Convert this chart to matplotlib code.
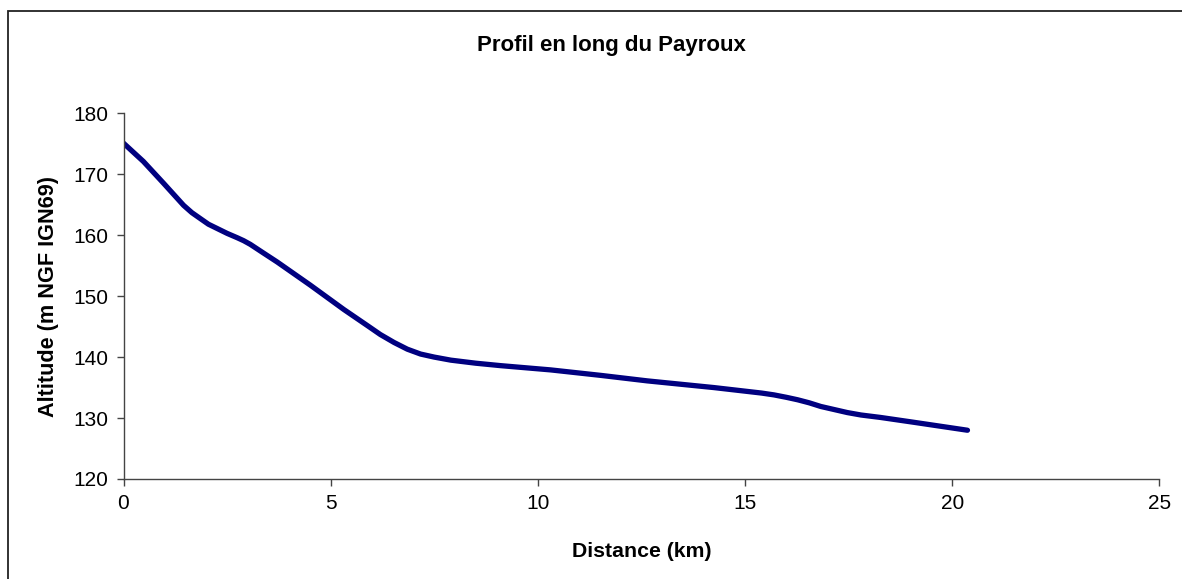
import matplotlib
matplotlib.use("Agg")
import matplotlib.pyplot as plt
from matplotlib.patches import Rectangle

plt.rcParams['font.family'] = ['Liberation Sans', 'DejaVu Sans']

# profil en long (distance km, altitude m)
distance = [0, 0.48, 0.97, 1.45, 1.65, 1.86, 2.05, 2.26, 2.5, 2.74, 2.9, 3.06, 3.35,
            3.71, 4.51, 5.32, 5.88, 6.2, 6.53, 6.85, 7.17, 7.5, 7.9, 8.5, 9.1,
            10.31, 11.52, 12.64, 14.25, 15.4, 15.7, 16.0, 16.27, 16.55, 16.83,
            17.15, 17.47, 17.8, 18.27, 19.08, 20.37]
altitude = [175.1, 172.1, 168.5, 164.9, 163.7, 162.7, 161.8, 161.1, 160.3, 159.6, 159.1, 158.5, 157.2,
            155.6, 151.8, 147.8, 145.2, 143.7, 142.4, 141.3, 140.5, 140.0, 139.5, 139.0, 138.6,
            137.9, 137.0, 136.1, 135.0, 134.1, 133.8, 133.4, 133.0, 132.5, 131.9,
            131.4, 130.9, 130.5, 130.1, 129.3, 128.0]
xticks = [0, 5, 10, 15, 20, 25]
yticks = [120, 130, 140, 150, 160, 170, 180]

W, H = 1182, 579
fig = plt.figure(figsize=(W / 100, H / 100), dpi=100)

# cadre du graphique
fig.patches.append(Rectangle((8 / W, -0.1), 1.2, (H - 11) / H + 0.1,
                             transform=fig.transFigure, fill=False,
                             edgecolor='#222222', linewidth=1.3))

ax = fig.add_axes([123.5 / W, (H - 479) / H, (1159.3 - 123.5) / W, (479 - 113.3) / H])
ax.plot(distance, altitude, color='#000080', linewidth=3.8,
        solid_capstyle='round', solid_joinstyle='round')

ax.set_xlim(0, 25)
ax.set_ylim(120, 180)
ax.set_xticks(xticks)
ax.set_yticks(yticks)
for s in ['top', 'right']:
    ax.spines[s].set_visible(False)
for s in ['left', 'bottom']:
    ax.spines[s].set_color('#444444')
    ax.spines[s].set_linewidth(1.0)
ax.tick_params(direction='out', length=5, width=1, color='#444444',
               labelsize=15, pad=6)

ax.set_xlabel('Distance (km)', fontsize=15.3, fontweight='bold', labelpad=21)
ax.set_ylabel('Altitude (m NGF IGN69)', fontsize=15.6, fontweight='bold', labelpad=10)
fig.text(611 / W, 1 - 45 / H, 'Profil en long du Payroux', fontsize=16,
         fontweight='bold', ha='center', va='center')

fig.savefig('out.png', dpi=100)
